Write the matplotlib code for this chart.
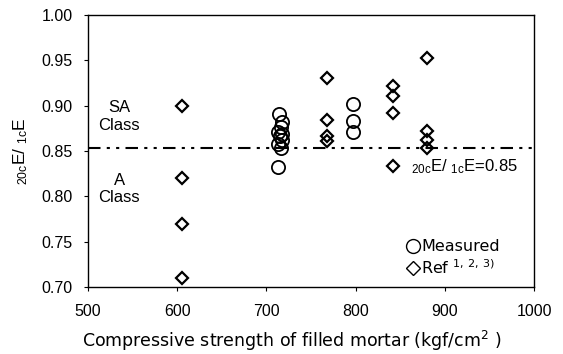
import matplotlib
matplotlib.use("Agg")
import matplotlib.pyplot as plt
from matplotlib.lines import Line2D

plt.rcParams['font.family'] = ['Liberation Sans', 'DejaVu Sans']
plt.rcParams['mathtext.default'] = 'regular'

# Measured values
meas_x = [714, 718, 716, 713, 718, 715, 717, 713, 716, 713, 797, 797, 797]
meas_y = [0.891, 0.882, 0.876, 0.871, 0.869, 0.866, 0.862, 0.858, 0.853, 0.832, 0.902, 0.883, 0.871]

# Reference values
ref_x = [605, 605, 605, 605, 768, 768, 768, 768, 842, 842, 842, 842, 880, 880, 880, 880]
ref_y = [0.90, 0.82, 0.77, 0.71, 0.930, 0.884, 0.866, 0.861, 0.922, 0.911, 0.892, 0.833, 0.952, 0.872, 0.862, 0.853]

threshold = 0.853
x_ticks = [500, 600, 700, 800, 900, 1000]
y_ticks = [0.70, 0.75, 0.80, 0.85, 0.90, 0.95, 1.00]

fig = plt.figure(figsize=(5.63, 3.54), dpi=100)
ax = fig.add_axes([0.156, 0.189, 0.793, 0.769])

ax.plot(meas_x, meas_y, linestyle='none', marker='o', markersize=9.5,
        markerfacecolor='none', markeredgecolor='black', markeredgewidth=1.3)
ax.plot(ref_x, ref_y, linestyle='none', marker='D', markersize=6.3,
        markerfacecolor='none', markeredgecolor='black', markeredgewidth=1.6)

ax.axhline(threshold, color='black', linewidth=1.5, linestyle=(0, (6, 3, 1.5, 3, 1.5, 3)))

ax.set_xlim(500, 1000)
ax.set_ylim(0.70, 1.00)
ax.set_xticks(x_ticks)
ax.set_yticks(y_ticks)
ax.set_yticklabels([f"{v:.2f}" for v in y_ticks])
ax.tick_params(direction='out', length=3, width=0.8, labelsize=11.5)
ax.tick_params(axis='x', pad=9)
ax.tick_params(axis='y', pad=8)

for s in ax.spines.values():
    s.set_linewidth(1.0)

ax.set_xlabel("Compressive strength of filled mortar (kgf/cm$^2$ )", fontsize=12.5,
              family='DejaVu Sans', labelpad=9)
ax.xaxis.set_label_coords(0.457, -0.155)
ax.set_ylabel("$_{20c}$E/ $_{1c}$E", fontsize=12.5, labelpad=8)

ax.text(535, 0.888, "SA\nClass", ha='center', va='center', fontsize=12, linespacing=1.2)
ax.text(535, 0.808, "A\nClass", ha='center', va='center', fontsize=12, linespacing=1.2)
ax.text(862, 0.833, "$_{20c}$E/ $_{1c}$E=0.85", ha='left', va='center', fontsize=12)

handles = [
    Line2D([], [], linestyle='none', marker='o', markersize=10, markerfacecolor='none',
           markeredgecolor='black', markeredgewidth=1.0),
    Line2D([], [], linestyle='none', marker='D', markersize=7.5, markerfacecolor='none',
           markeredgecolor='black', markeredgewidth=1.0),
]
ax.legend(handles, ["Measured", "Ref $^{1,\\,2,\\,3)}$"], loc='upper left',
          bbox_to_anchor=(0.69, 0.205), frameon=False,
          prop={'family': 'DejaVu Sans', 'size': 11.5},
          handletextpad=0.0, handlelength=1.1, labelspacing=0.25, borderpad=0.0)

fig.savefig("out.png", dpi=100)
